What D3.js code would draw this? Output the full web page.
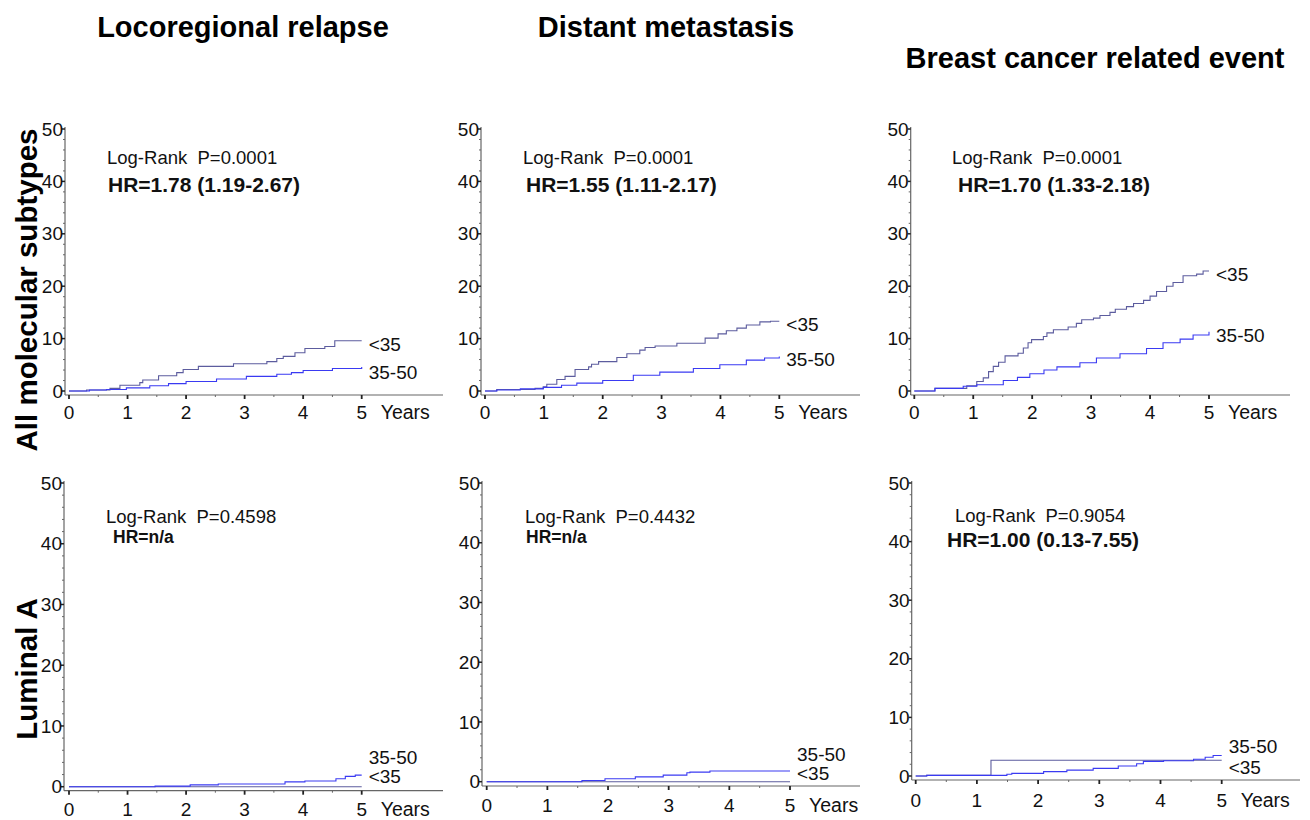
<!DOCTYPE html>
<html><head><meta charset="utf-8">
<script src="https://cdn.jsdelivr.net/npm/d3@7"></script>
<style>
body{margin:0;background:#fff;}
svg{display:block;font-family:"Liberation Sans",Arial,sans-serif;}
</style></head>
<body>
<script>
// ---------- DATA ----------
const columnTitles = ["Locoregional relapse", "Distant metastasis", "Breast cancer related event"];
const rowTitles = ["All molecular subtypes", "Luminal A"];
const groupNames = ["<35", "35-50"];
const yearTicks = [0, 1, 2, 3, 4, 5];
const yTickValues = [0, 10, 20, 30, 40, 50];
const logRankP = ["0.0001", "0.0001", "0.0001", "0.4598", "0.4432", "0.9054"];
const hazardRatios = ["HR=1.78 (1.19-2.67)", "HR=1.55 (1.11-2.17)", "HR=1.70 (1.33-2.18)", "HR=n/a", "HR=n/a", "HR=1.00 (0.13-7.55)"];

// cumulative incidence (%) step points [years, %]
const lrrAllUnder35 = [[0,0],[0.3,0.2],[0.7,0.5],[0.87,1.1],[1.21,1.6],[1.26,2.1],[1.53,2.9],[1.84,3.5],[1.95,4.1],[2.21,4.7],[2.81,5.2],[3.38,5.6],[3.55,6.2],[3.66,6.6],[3.86,7.3],[4.03,8.1],[4.37,8.5],[4.54,9.6],[5.0,9.6]];
const lrrAll35to50 = [[0,0],[0.35,0.2],[0.64,0.3],[0.98,0.6],[1.38,1.0],[1.7,1.4],[2.0,1.8],[2.52,2.3],[3.03,2.8],[3.55,3.2],[3.8,3.5],[4.0,3.9],[4.5,4.3],[5.0,4.6]];
const dmAllUnder35 = [[0,0],[0.2,0.3],[0.85,0.5],[0.99,0.8],[1.05,1.3],[1.22,2.2],[1.36,2.8],[1.53,4.1],[1.76,4.6],[1.81,5.1],[1.93,5.6],[2.24,6.4],[2.41,7.1],[2.63,7.8],[2.72,8.3],[2.89,8.6],[3.26,9.1],[3.74,10.1],[3.96,10.9],[4.1,11.5],[4.28,12.0],[4.44,12.6],[4.67,13.2],[4.85,13.3],[5.0,13.3]];
const dmAll35to50 = [[0,0],[0.2,0.2],[0.6,0.4],[0.99,0.7],[1.3,1.1],[1.56,1.5],[2.0,2.0],[2.52,3.0],[2.97,3.6],[3.54,4.3],[3.99,5.0],[4.44,5.9],[4.75,6.3],[5.0,6.6]];
const bcAllUnder35 = [[0,0],[0.35,0.5],[0.89,1.0],[1.06,1.8],[1.17,2.5],[1.26,3.7],[1.34,4.7],[1.43,5.5],[1.54,6.7],[1.76,7.2],[1.85,8.2],[1.93,9.2],[1.99,9.8],[2.19,10.4],[2.25,11.1],[2.36,11.7],[2.61,12.2],[2.75,12.9],[2.84,13.6],[3.04,13.9],[3.15,14.4],[3.32,15.0],[3.41,15.6],[3.6,16.1],[3.72,16.7],[3.89,17.3],[4.0,18.1],[4.11,19.0],[4.28,20.0],[4.39,20.7],[4.56,22.0],[4.79,22.3],[4.9,22.9],[5.0,22.9]];
const bcAll35to50 = [[0,0],[0.35,0.5],[0.83,0.9],[1.06,1.2],[1.51,2.0],[1.75,2.6],[1.96,3.3],[2.2,4.0],[2.42,4.6],[2.81,5.4],[3.09,6.3],[3.49,7.1],[3.94,8.1],[4.22,9.2],[4.51,9.9],[4.73,10.7],[5.0,11.3]];
const lrrLumAUnder35 = [[0,0],[5.0,0]];
const lrrLumA35to50 = [[0,0],[1.47,0.1],[2.07,0.3],[2.55,0.45],[3.69,0.8],[4.03,0.95],[4.56,1.3],[4.72,1.7],[4.89,1.9],[5.0,1.9]];
const dmLumAUnder35 = [[0,0],[5.0,0]];
const dmLumA35to50 = [[0,0],[1.57,0.2],[1.95,0.5],[2.45,0.8],[2.91,1.1],[3.3,1.5],[3.35,1.6],[3.68,1.8],[5.0,1.8]];
const bcLumAUnder35 = [[0,0],[0.18,0.1],[1.23,2.7],[5.0,2.7]];
const bcLumA35to50 = [[0,0],[0.18,0.1],[1.49,0.3],[1.57,0.45],[2.09,0.75],[2.47,1.0],[2.9,1.3],[3.31,1.7],[3.61,2.1],[3.72,2.5],[4.05,2.6],[4.54,2.85],[4.73,3.2],[4.86,3.5],[5.0,3.5]];

const seriesByPanel = [
  [lrrAllUnder35, lrrAll35to50],
  [dmAllUnder35, dmAll35to50],
  [bcAllUnder35, bcAll35to50],
  [lrrLumAUnder35, lrrLumA35to50],
  [dmLumAUnder35, dmLumA35to50],
  [bcLumAUnder35, bcLumA35to50]
];

// ---------- LAYOUT ----------
const layout = [
  {ax:65,  x0:69,    x5:361.7,  y50:129, y0:391,   axY:395,   xEnd:443,  tlab:17, note:[107,164,108,191.5,21], lab:[[0,10],[0,12]]},
  {ax:481, x0:485,   x5:779.3,  y50:129, y0:391,   axY:395,   xEnd:860,  tlab:17, note:[523,164,526,191.5,21], lab:[[0,10],[0,10]]},
  {ax:910.7,x0:914.3,x5:1209,   y50:129, y0:391,   axY:395,   xEnd:1290, tlab:17, note:[952,164,958,191.5,21], lab:[[0,10],[0,10]]},
  {ax:64,  x0:69,    x5:361.7,  y50:483, y0:786.7, axY:790.7, xEnd:443,  tlab:18.5, note:[106,523,113,543,17.5], lab:[[0,-4],[0,-11]]},
  {ax:482, x0:486.7, x5:790,    y50:483, y0:781.7, axY:786,   xEnd:860,  tlab:19, note:[525,523,526,543,17.5], lab:[[0,-2],[0,-10]]},
  {ax:911.7,x0:915.7,x5:1221.7, y50:483, y0:776,   axY:780,   xEnd:1300, tlab:20, note:[955,522,947,547,21], lab:[[0,14],[0,-2]]}
];
const colors = ["#5c5c9e", "#3a3af2"];
const axisColor = "#666";

const svg = d3.select("body").append("svg").attr("width",1310).attr("height",820);

// column titles
const titlePos = [[243,37],[666,37],[1095,68]];
columnTitles.forEach((t,i)=>{
  svg.append("text").attr("x",titlePos[i][0]).attr("y",titlePos[i][1])
    .attr("text-anchor","middle").attr("font-size",29).attr("font-weight","bold").text(t);
});
// row titles
const rowPos = [[37,290],[37,669]];
rowTitles.forEach((t,i)=>{
  svg.append("text").attr("transform",`translate(${rowPos[i][0]},${rowPos[i][1]}) rotate(-90)`)
    .attr("text-anchor","middle").attr("font-size",29.5).attr("font-weight","bold").text(t);
});

layout.forEach((L,pi)=>{
  const x = d3.scaleLinear().domain([0,5]).range([L.x0,L.x5]);
  const y = d3.scaleLinear().domain([0,50]).range([L.y0,L.y50]);
  const g = svg.append("g");

  // y axis line
  g.append("line").attr("x1",L.ax).attr("x2",L.ax).attr("y1",L.y50-2).attr("y2",L.axY)
    .attr("stroke",axisColor).attr("stroke-width",1.2);
  // y ticks (major + minor)
  d3.range(0,51,2).forEach(v=>{
    const major = v%10===0;
    g.append("line").attr("x1",L.ax-(major?3:2)).attr("x2",L.ax).attr("y1",y(v)).attr("y2",y(v))
      .attr("stroke",major?"#222":axisColor).attr("stroke-width",major?1.5:1);
  });
  yTickValues.forEach(v=>{
    g.append("text").attr("x",L.ax-2).attr("y",y(v)).attr("dy","0.35em")
      .attr("text-anchor","end").attr("font-size",19).attr("fill","#111").text(v);
  });
  // x axis
  g.append("line").attr("x1",L.ax).attr("x2",L.xEnd).attr("y1",L.axY).attr("y2",L.axY)
    .attr("stroke",axisColor).attr("stroke-width",1.2);
  d3.range(0,5.01,0.5).forEach(v=>{
    const major = Math.abs(v-Math.round(v))<1e-6;
    g.append("line").attr("x1",x(v)).attr("x2",x(v)).attr("y1",L.axY).attr("y2",L.axY+(major?4:2))
      .attr("stroke",major?"#222":axisColor).attr("stroke-width",major?1.8:1);
  });
  yearTicks.forEach(v=>{
    g.append("text").attr("x",x(v)).attr("y",L.axY+L.tlab).attr("dy","0.35em")
      .attr("text-anchor","middle").attr("font-size",19).attr("fill","#111").text(v);
  });
  g.append("text").attr("x",x(5)+19).attr("y",L.axY+L.tlab).attr("dy","0.35em")
    .attr("font-size",19.5).attr("fill","#111").text("Years");

  // curves
  const line = d3.line().x(d=>x(d[0])).y(d=>y(d[1])).curve(d3.curveStepAfter);
  seriesByPanel[pi].forEach((s,si)=>{
    g.append("path").datum(s).attr("d",line).attr("fill","none")
      .attr("stroke",colors[si]).attr("stroke-width",1.1);
    const last = s[s.length-1];
    g.append("text").attr("x",x(last[0])+7+L.lab[si][0]).attr("y",y(last[1])+L.lab[si][1])
      .attr("font-size",19).attr("fill","#111").text(groupNames[si]);
  });

  // annotations
  const n = L.note;
  g.append("text").attr("x",n[0]).attr("y",n[1]).attr("font-size",18.5).attr("fill","#111")
    .attr("xml:space","preserve").style("white-space","pre").text("Log-Rank  P=" + logRankP[pi]);
  g.append("text").attr("x",n[2]).attr("y",n[3]).attr("font-size",n[4]).attr("font-weight","bold").attr("fill","#111")
    .text(hazardRatios[pi]);
});
</script>
</body></html>
